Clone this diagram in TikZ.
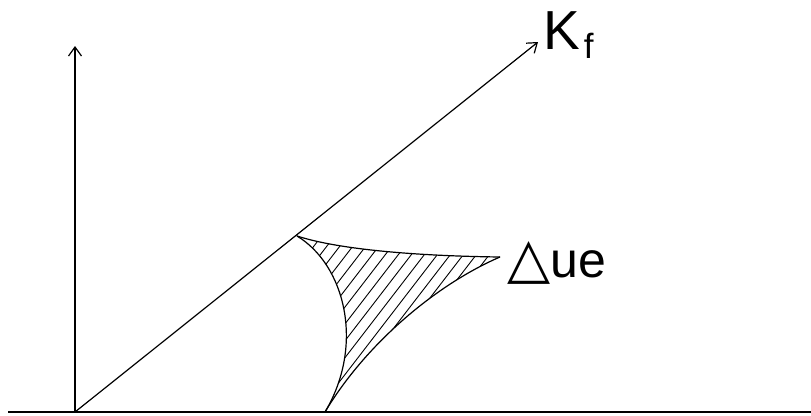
\documentclass[tikz,border=0pt]{standalone}
\usepackage{fontspec}
\setmainfont{Liberation Sans}
\newfontfamily\symfont{DejaVu Sans}
\usetikzlibrary{arrows.meta}

\begin{document}
\begin{tikzpicture}[
	x=1pt, y=-1pt,
	>={Straight Barb[length=9pt, width=13pt]},
	% Styles for axes and the shaded region
	axisline/.style={line width=1.2pt, ->},
	groundline/.style={line width=2pt},
	rimline/.style={line width=1.2pt},
	hatchline/.style={line width=0.9pt},
	labeltext/.style={inner sep=0pt, font=\fontsize{50}{50}\selectfont}
	]
	
	\useasboundingbox (0,0) rectangle (811,415);
	
	% ==========================================
	% AXES
	% ==========================================
	\coordinate (O) at (75,412);
	\coordinate (ytip) at (75,46);
	\coordinate (ktip) at (538,42);
	\coordinate (gleft) at (8,412);
	\coordinate (gright) at (811,412);
	
	\draw[groundline] (gleft) -- (gright);
	\draw[axisline] (O) -- (ytip);
	\draw[axisline] (O) -- (ktip);
	
	\node[labeltext, font=\fontsize{55}{55}\selectfont, anchor=base west] (klabel) at (543,49)
		{K\kern4pt\raisebox{-9pt}{\fontsize{35}{35}\selectfont f}};
	
	% ==========================================
	% HATCHED REGION
	% ==========================================
	\coordinate (A) at (297,236);
	\coordinate (B) at (500,257);
	\coordinate (C) at (325,412);
	
	\begin{scope}
		\clip (A) .. controls (340,250) and (420,256) .. (B)
			.. controls (435,285) and (365,345) .. (C)
			.. controls (365,345) and (345,265) .. (A);
		\foreach \x in {180,193,...,700}
			\draw[hatchline] (\x,420) -- ++(154,-200);
	\end{scope}
	
	\draw[rimline] (A) .. controls (340,250) and (420,256) .. (B);
	\draw[rimline] (B) .. controls (435,285) and (365,345) .. (C);
	\draw[rimline] (C) .. controls (365,345) and (345,265) .. (A);
	
	\node[labeltext, anchor=base west] (uelabel) at (507,277)
		{{\symfont\fontsize{56}{56}\selectfont △}ue};
	
\end{tikzpicture}
\end{document}
